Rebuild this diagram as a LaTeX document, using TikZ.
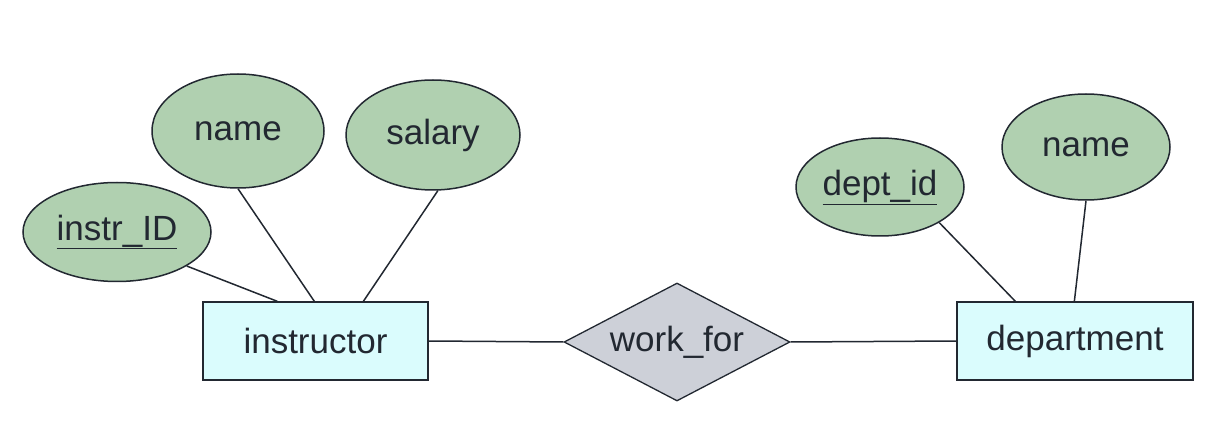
\documentclass[tikz,border=0pt]{standalone}
\usepackage{fontspec}
\setmainfont{Liberation Sans}
\usetikzlibrary{shapes.geometric,calc}
\definecolor{attrfill}{HTML}{B0D0B0}
\definecolor{entfill}{HTML}{DAFCFD}
\definecolor{relfill}{HTML}{CDD0D8}
\definecolor{ink}{HTML}{222831}
\tikzset{
  lbl/.style={font=\fontsize{35}{40}\selectfont, text=ink},
  attr/.style={ellipse, draw=ink, line width=1.5pt, fill=attrfill, inner sep=0pt, lbl},
  ent/.style={rectangle, draw=ink, line width=1.3pt, fill=entfill, inner sep=0pt, lbl},
  rel/.style={diamond, draw=ink, line width=1.3pt, fill=relfill, inner sep=0pt, aspect=1.92, lbl},
  conn/.style={draw=ink, line width=1.5pt}
}
\begin{document}
\begin{tikzpicture}[x=1pt,y=-1pt]
\useasboundingbox (0,0) rectangle (1226,446);
% entities
\node[ent, minimum width=225pt, minimum height=78pt] (inst) at (315.5,341) {instructor};
\node[ent, minimum width=236pt, minimum height=78pt] (dept) at (1075,341) {department};
\node[rel, minimum width=226pt, minimum height=118pt] (work) at (677,342) {work\_for};
% attributes
\node[attr, minimum width=188pt, minimum height=99pt] (iid) at (117,232) {\underline{instr\_ID}};
\node[attr, minimum width=172pt, minimum height=114pt] (iname) at (238,131) {name};
\node[attr, minimum width=174pt, minimum height=110pt] (isal) at (433,135) {salary};
\node[attr, minimum width=168pt, minimum height=98pt] (did) at (880,187) {\underline{dept\_id}};
\node[attr, minimum width=168pt, minimum height=106pt] (dname) at (1086,147) {name};
% connectors
\coordinate (c1) at ($(inst.north west)+(75,0)$);
\coordinate (c2) at ($(inst.north west)+(112,0)$);
\coordinate (c3) at ($(inst.north west)+(161,0)$);
\coordinate (c4) at ($(dept.north west)+(59,0)$);
\coordinate (c5) at ($(dept.north west)+(118,0)$);
\draw[conn] (iid.-26) -- (c1);
\draw[conn] (iname.south) -- (c2);
\draw[conn] (isal.-85) -- (c3);
\draw[conn] (did.-31) -- (c4);
\draw[conn] (dname.south) -- (c5);
\draw[conn] (inst.east) -- (work.west);
\draw[conn] (work.east) -- (dept.west);
\end{tikzpicture}
\end{document}
